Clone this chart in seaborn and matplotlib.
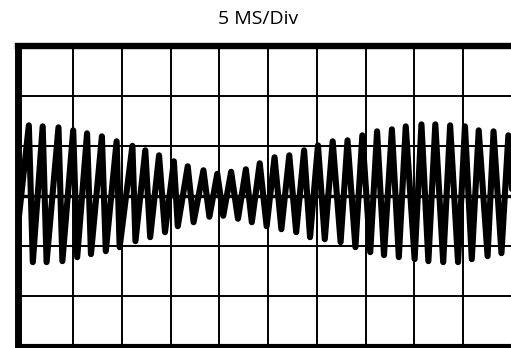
import numpy as np
import pandas as pd
import matplotlib
matplotlib.use("Agg")
import matplotlib.pyplot as plt
import seaborn as sns

# scope trace, 5 ms/div, amplitude in divisions
# peak times (ms) and peak heights
upper_t = [0.47, 1.89, 3.51, 5.02, 6.44, 7.96, 9.47, 11.09, 12.41, 13.82, 15.34, 16.76,
           18.37, 19.79, 21.21, 22.72, 24.14, 25.66, 27.17, 28.69, 30.11, 31.62, 33.14,
           34.66, 36.17, 37.69, 39.11, 40.72, 42.14, 43.66, 45.18, 46.59, 48.11, 49.63]
upper_v = [1.41, 1.39, 1.37, 1.31, 1.25, 1.19, 1.09, 1.00, 0.91, 0.81, 0.69, 0.59,
           0.51, 0.44, 0.48, 0.53, 0.65, 0.77, 0.81, 0.91, 1.01, 1.09, 1.11,
           1.21, 1.29, 1.33, 1.39, 1.43, 1.43, 1.41, 1.39, 1.31, 1.29, 1.21]
lower_t = [-1.05, 0.88, 2.29, 3.91, 5.43, 6.84, 8.36, 9.78, 11.40, 12.91, 14.43, 15.74, 17.36,
           18.98, 20.40, 21.91, 23.33, 24.85, 26.36, 27.88, 29.30, 30.81, 32.43,
           33.95, 35.47, 36.88, 38.40, 40.02, 41.43, 42.95, 44.47, 45.88, 47.50, 48.92, 50.43]
lower_v = [-1.33, -1.33, -1.33, -1.31, -1.23, -1.17, -1.11, -1.03, -0.91, -0.83, -0.73, -0.61, -0.53,
           -0.42, -0.40, -0.46, -0.53, -0.61, -0.67, -0.73, -0.83, -0.87, -0.93,
           -1.03, -1.13, -1.19, -1.23, -1.27, -1.31, -1.33, -1.33, -1.27, -1.21, -1.15, -1.10]

trace = pd.concat([pd.DataFrame({"t": lower_t, "v": lower_v}),
                   pd.DataFrame({"t": upper_t, "v": upper_v})]).sort_values("t")

sns.set_style("white")
plt.rcParams['font.family'] = ['Open Sans', 'DejaVu Sans']

fig = plt.figure(figsize=(5.11, 3.48), dpi=100)
ax = fig.add_axes([18 / 511, 2.5 / 348, 493 / 511, 299.5 / 348])

# graticule
for x in range(5, 50, 5):
    ax.axvline(x, color="black", lw=1.4, zorder=1)
for y in [-2, -1, 1, 2]:
    ax.axhline(y, color="black", lw=1.4, zorder=1)
ax.axhline(0, color="black", lw=2.4, zorder=1)

sns.lineplot(data=trace, x="t", y="v", sort=False, estimator=None,
             color="black", lw=4.4, ax=ax, zorder=3)
ax.get_lines()[-1].set_solid_joinstyle("round")

ax.set_xlim(-0.64, 49.9)
ax.set_ylim(-3, 3)
ax.set_xticks([])
ax.set_yticks([])
ax.set_xlabel("")
ax.set_ylabel("")
for side, w in [("left", 5.0), ("top", 4.6), ("bottom", 3.0), ("right", 0)]:
    ax.spines[side].set_linewidth(w)
    ax.spines[side].set_color("black")
ax.spines["right"].set_visible(False)

fig.text(258 / 511, 1 - 19 / 348, "5 MS/Div", ha="center", va="center",
         fontsize=14, color="black")

fig.savefig("out.png", dpi=100)
